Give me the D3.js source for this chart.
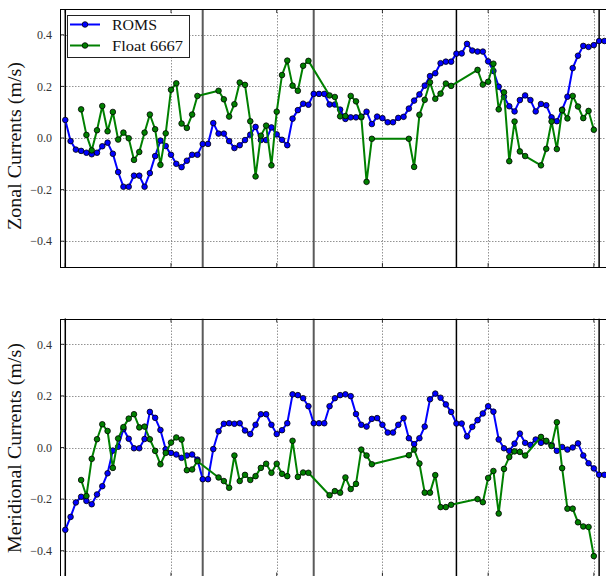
<!DOCTYPE html>
<html>
<head>
<meta charset="utf-8">
<script src="https://cdn.jsdelivr.net/npm/d3@7"></script>
<style>
  html, body { margin: 0; padding: 0; background: #fff; }
  svg { display: block; }
  text { font-family: "Liberation Serif", "DejaVu Serif", serif; }
</style>
</head>
<body>
<div id="chart"></div>
<script>
// ROMS model currents, one value per day starting at day 0 (m/s)
const romsZonal = [
  0.070, -0.012, -0.045, -0.050, -0.057, -0.063, -0.057, -0.032, -0.018, -0.061,
  -0.132, -0.189, -0.189, -0.146, -0.146, -0.189, -0.136, -0.070, -0.010, -0.031,
  -0.065, -0.100, -0.113, -0.088, -0.065, -0.065, -0.023, -0.023, 0.058, 0.017,
  0.017, -0.012, -0.039, -0.028, -0.008, 0.013, 0.043, -0.008, -0.008, 0.041,
  0.014, -0.007, -0.028, 0.075, 0.108, 0.133, 0.129, 0.171, 0.171, 0.171,
  0.130, 0.130, 0.110, 0.074, 0.080, 0.080, 0.080, 0.102, 0.054, 0.083,
  0.077, 0.061, 0.061, 0.078, 0.082, 0.114, 0.145, 0.169, 0.203, 0.240,
  0.251, 0.290, 0.296, 0.296, 0.327, 0.328, 0.365, 0.339, 0.335, 0.335,
  0.297, 0.260, 0.199, 0.160, 0.123, 0.103, 0.147, 0.165, 0.147, 0.103,
  0.132, 0.127, 0.080, 0.065, 0.110, 0.160, 0.271, 0.319, 0.357, 0.353,
  0.360, 0.376, 0.376
];
const romsMeridional = [
  -0.319, -0.269, -0.213, -0.191, -0.207, -0.220, -0.182, -0.150, -0.100, -0.012,
  0.003, 0.072, 0.034, -0.003, -0.003, 0.033, 0.138, 0.115, 0.068, -0.007,
  -0.021, -0.027, -0.040, -0.031, -0.027, -0.047, -0.123, -0.123, -0.006, 0.063,
  0.092, 0.094, 0.092, 0.094, 0.066, 0.052, 0.088, 0.129, 0.129, 0.088,
  0.052, 0.067, 0.094, 0.206, 0.203, 0.191, 0.160, 0.094, 0.094, 0.094,
  0.160, 0.191, 0.203, 0.206, 0.199, 0.130, 0.088, 0.081, 0.111, 0.114,
  0.088, 0.058, 0.058, 0.088, 0.114, 0.036, 0.013, 0.036, 0.081, 0.187,
  0.209, 0.193, 0.167, 0.138, 0.093, 0.093, 0.043, 0.080, 0.106, 0.132,
  0.160, 0.139, 0.031, -0.003, -0.013, 0.015, 0.054, 0.018, 0.010, 0.031,
  0.018, 0.023, 0.010, -0.013, 0.002, -0.008, 0.000, 0.016, -0.031, -0.061,
  -0.081, -0.106, -0.106
];

// Float 6667 velocity estimates on the days it reported
const floatDays = [
  3, 4, 5, 6, 7, 8, 9, 10, 11, 12, 13, 14, 15, 16, 17, 18, 19, 20, 21, 22, 23, 24, 25,
  29, 30, 31, 32, 33, 34, 35, 36, 37, 38, 39, 40, 41, 42, 43, 44, 45, 46,
  50, 51, 52, 53, 54, 55, 56, 57, 58,
  65, 66, 67, 68, 69, 70, 71, 72, 73,
  78, 79, 80, 81, 82, 83, 84, 85, 86, 87,
  90, 91, 92, 93, 94, 95, 96, 97, 98, 99, 100
];
const floatZonal = [
  0.111, 0.012, -0.048, 0.030, 0.124, 0.026, 0.101, -0.006, 0.021, -0.001, -0.085, -0.054,
  0.021, 0.091, 0.034, -0.104, 0.018, 0.187, 0.212, 0.056, 0.039, 0.091, 0.163,
  0.183, 0.150, 0.083, 0.131, 0.215, 0.206, 0.065, -0.149, 0.009, 0.048, -0.106, 0.102,
  0.244, 0.300, 0.203, 0.183, 0.280, 0.299,
  0.165, 0.159, 0.084, 0.085, 0.163, 0.142, 0.083, -0.170, -0.003,
  -0.003, -0.112, 0.090, 0.148, 0.216, 0.152, 0.172, 0.211, 0.202,
  0.264, 0.207, 0.218, 0.288, 0.111, 0.177, -0.090, 0.064, -0.052, -0.070,
  -0.106, -0.042, 0.064, -0.043, 0.108, 0.076, 0.163, 0.122, 0.077, 0.105, 0.032
];
const floatMeridional = [
  -0.126, -0.188, -0.044, 0.032, 0.090, 0.064, -0.079, 0.035, 0.079, 0.112, 0.129, 0.078,
  0.081, 0.032, -0.013, -0.065, -0.021, 0.019, 0.039, 0.031, -0.088, -0.085, -0.053,
  -0.116, -0.130, -0.156, -0.031, -0.130, -0.106, -0.126, -0.111, -0.079, -0.063, -0.098, -0.063,
  -0.102, -0.111, 0.026, -0.114, -0.097, -0.098,
  -0.185, -0.169, -0.175, -0.116, -0.161, -0.141, -0.008, -0.031, -0.065,
  -0.030, -0.008, -0.062, -0.175, -0.175, -0.107, -0.231, -0.231, -0.222,
  -0.200, -0.212, -0.118, -0.091, -0.256, -0.083, -0.037, -0.015, -0.017, -0.031,
  0.041, 0.026, 0.006, 0.098, -0.080, -0.237, -0.237, -0.290, -0.306, -0.308, -0.421
];

// Axis ticks and reference markers
const yTicks = [-0.4, -0.2, 0.0, 0.2, 0.4];
const xTicks = [0, 20, 40, 60, 80, 100];
const blackLineDays = [0, 74, 101];
const grayLineDays = [26, 47];

const seriesNames = ["ROMS", "Float 6667"];
const seriesColors = ["#0000ff", "#008000"];

const W = 606, H = 576;
const svg = d3.select("#chart").append("svg")
  .attr("width", W).attr("height", H)
  .attr("viewBox", `0 0 ${W} ${H}`);

const x = d3.scaleLinear().domain([-1, 103]).range([60, 609.7]);

const panels = [
  { top: 9, bottom: 267, label: "Zonal Currents (m/s)", labelLen: 168, labelY: 146,
    roms: romsZonal, flt: floatZonal, legend: true },
  { top: 318.5, bottom: 576.5, label: "Meridional Currents (m/s)", labelLen: 210, labelY: 448,
    roms: romsMeridional, flt: floatMeridional, legend: false }
];

const fmt = v => (v < 0 ? "\u2212" : "") + Math.abs(v).toFixed(1);

panels.forEach((p, i) => {
  const y = d3.scaleLinear().domain([-0.5, 0.5]).range([p.bottom, p.top]);
  const left = x.range()[0], right = x.range()[1];
  const g = svg.append("g");

  const clipId = "clip" + i;
  svg.append("clipPath").attr("id", clipId)
    .append("rect").attr("x", left).attr("y", p.top)
    .attr("width", right - left).attr("height", p.bottom - p.top);

  const plot = g.append("g").attr("clip-path", `url(#${clipId})`);

  // dotted grid
  plot.selectAll(".hgrid").data(yTicks).join("line")
    .attr("x1", left).attr("x2", right)
    .attr("y1", d => Math.round(y(d)) + 0.5).attr("y2", d => Math.round(y(d)) + 0.5)
    .attr("stroke", "#777").attr("stroke-width", 0.8).attr("stroke-dasharray", "1.5,1.5");
  plot.selectAll(".vgrid").data(xTicks).join("line")
    .attr("x1", d => Math.round(x(d)) + 0.5).attr("x2", d => Math.round(x(d)) + 0.5)
    .attr("y1", p.top).attr("y2", p.bottom)
    .attr("stroke", "#777").attr("stroke-width", 0.8).attr("stroke-dasharray", "1.5,1.5");

  // reference lines
  plot.selectAll(".gline").data(grayLineDays).join("line")
    .attr("x1", d => x(d)).attr("x2", d => x(d))
    .attr("y1", p.top).attr("y2", p.bottom)
    .attr("stroke", "#5a5a5a").attr("stroke-width", 2);
  plot.selectAll(".bline").data(blackLineDays).join("line")
    .attr("x1", d => x(d)).attr("x2", d => x(d))
    .attr("y1", p.top).attr("y2", p.bottom)
    .attr("stroke", "#000").attr("stroke-width", 1.5);

  const romsPts = p.roms.map((v, d) => [d, v]);
  const fltPts = floatDays.map((d, k) => [d, p.flt[k]]);
  const line = d3.line().x(d => x(d[0])).y(d => y(d[1]));

  [romsPts, fltPts].forEach((pts, s) => {
    plot.append("path").datum(pts)
      .attr("d", line).attr("fill", "none")
      .attr("stroke", seriesColors[s]).attr("stroke-width", 2)
      .attr("stroke-linejoin", "round");
    plot.selectAll(".m" + s).data(pts).join("circle")
      .attr("cx", d => x(d[0])).attr("cy", d => y(d[1]))
      .attr("r", 2.8).attr("fill", seriesColors[s])
      .attr("stroke", "#000").attr("stroke-width", 0.8);
  });

  // ticks (inward)
  yTicks.forEach(t => {
    g.append("line").attr("x1", left).attr("x2", left + 4)
      .attr("y1", y(t)).attr("y2", y(t)).attr("stroke", "#000").attr("stroke-width", 0.8);
    g.append("text").attr("x", 52).attr("y", y(t)).attr("dy", "0.35em")
      .attr("text-anchor", "end").attr("font-size", 12).attr("fill", "#333")
      .text(fmt(t));
  });
  xTicks.forEach(t => {
    g.append("line").attr("x1", x(t)).attr("x2", x(t))
      .attr("y1", p.bottom).attr("y2", p.bottom - 4).attr("stroke", "#000").attr("stroke-width", 0.8);
    g.append("line").attr("x1", x(t)).attr("x2", x(t))
      .attr("y1", p.top).attr("y2", p.top + 4).attr("stroke", "#000").attr("stroke-width", 0.8);
  });

  // frame
  g.append("rect").attr("x", left + 0.5).attr("y", Math.round(p.top) + 0.5)
    .attr("width", right - left).attr("height", p.bottom - p.top)
    .attr("fill", "none").attr("stroke", "#000").attr("stroke-width", 1);

  // y-axis title
  g.append("text")
    .attr("transform", `translate(21,${p.labelY}) rotate(-90)`)
    .attr("text-anchor", "middle").attr("font-size", 18).attr("fill", "#111")
    .attr("textLength", p.labelLen).attr("lengthAdjust", "spacingAndGlyphs")
    .text(p.label);

  if (p.legend) {
    const lg = g.append("g");
    lg.append("rect").attr("x", 67.5).attr("y", 15.5).attr("width", 122).attr("height", 42)
      .attr("fill", "#fff").attr("stroke", "#222").attr("stroke-width", 1);
    const textLens = [45, 71];
    seriesNames.forEach((name, s) => {
      const ly = 24.5 + s * 21;
      lg.append("line").attr("x1", 70).attr("x2", 100).attr("y1", ly).attr("y2", ly)
        .attr("stroke", seriesColors[s]).attr("stroke-width", 2);
      lg.append("circle").attr("cx", 85).attr("cy", ly).attr("r", 2.8)
        .attr("fill", seriesColors[s]).attr("stroke", "#000").attr("stroke-width", 0.8);
      lg.append("text").attr("x", 112).attr("y", ly + 5)
        .attr("font-size", 15).attr("fill", "#111")
        .attr("textLength", textLens[s]).attr("lengthAdjust", "spacingAndGlyphs")
        .text(name);
    });
  }
});
</script>
</body>
</html>
